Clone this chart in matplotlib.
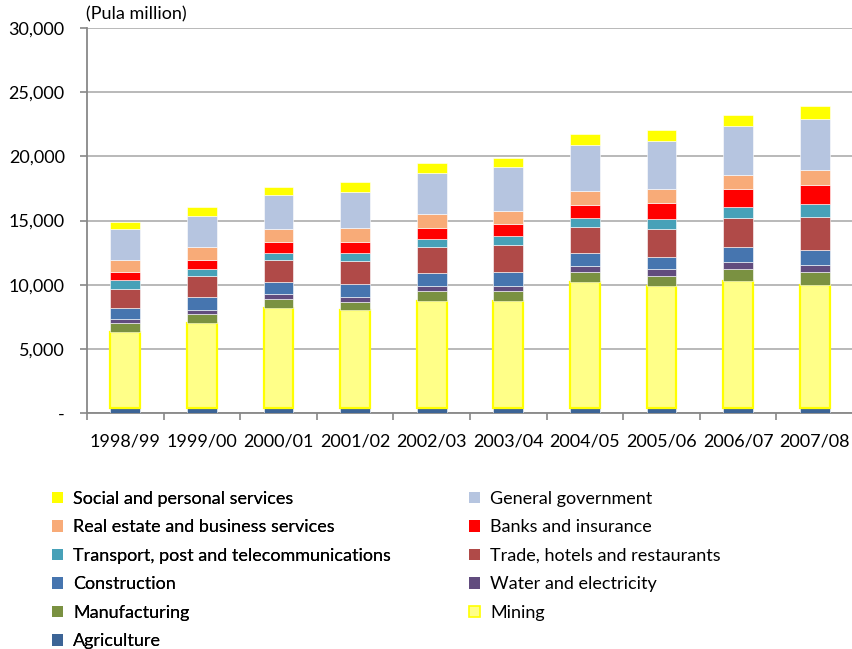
import matplotlib
matplotlib.use("Agg")
import matplotlib.pyplot as plt
from matplotlib.patches import Patch
from matplotlib.ticker import FixedLocator, FuncFormatter
import numpy as np

plt.rcParams['font.family'] = ['Lato', 'DejaVu Sans']

years = ["1998/99", "1999/00", "2000/01", "2001/02", "2002/03",
         "2003/04", "2004/05", "2005/06", "2006/07", "2007/08"]

# Value added by sector, Pula million (stacked bottom to top)
agriculture   = [380, 380, 390, 390, 390, 390, 400, 400, 400, 400]
mining        = [5950, 6630, 7770, 7610, 8310, 8360, 9800, 9490, 9900, 9600]
manufacturing = [680, 725, 700, 645, 780, 730, 780, 780, 890, 1010]
water_elec    = [310, 310, 390, 415, 435, 415, 490, 520, 545, 500]
construction  = [880, 990, 980, 965, 965, 1115, 1010, 980, 1190, 1190]
trade         = [1480, 1610, 1715, 1815, 2025, 2105, 2025, 2135, 2235, 2595]
transport     = [650, 545, 520, 625, 645, 675, 655, 780, 880, 965]
banks         = [670, 725, 855, 855, 855, 935, 1035, 1270, 1405, 1505]
real_estate   = [935, 990, 990, 1115, 1115, 990, 1115, 1065, 1065, 1190]
general_gov   = [2370, 2470, 2670, 2780, 3170, 3430, 3560, 3765, 3865, 3950]
social        = [545, 670, 650, 755, 780, 750, 855, 855, 835, 990]

series = [
    ("Agriculture", agriculture, "#3C6496"),
    ("Mining", mining, "#FFFF88"),
    ("Manufacturing", manufacturing, "#7A9141"),
    ("Water and electricity", water_elec, "#614C7E"),
    ("Construction", construction, "#4675AF"),
    ("Trade, hotels and restaurants", trade, "#B04A48"),
    ("Transport, post and telecommunications", transport, "#47A1B8"),
    ("Banks and insurance", banks, "#FF0000"),
    ("Real estate and business services", real_estate, "#F8AB78"),
    ("General government", general_gov, "#B6C5E0"),
    ("Social and personal services", social, "#FFFF00"),
]

FS = 13

fig = plt.figure(figsize=(8.53, 6.49), dpi=100)
ax = fig.add_axes([87 / 853, 236 / 649, 766 / 853, 385 / 649])

x = np.arange(len(years))
width = 0.39
bottom = np.zeros(len(years))
handles = {}
for name, vals, color in series:
    vals = np.array(vals, dtype=float)
    if name == "Mining":
        ax.bar(x, vals, width, bottom=bottom, color=color,
               edgecolor="#FFFF00", linewidth=1.6, zorder=3)
        handles[name] = Patch(facecolor=color, edgecolor="#FFFF00", linewidth=1.2)
    else:
        ax.bar(x, vals, width, bottom=bottom, color=color,
               edgecolor="#FFFFFF", linewidth=0.4, zorder=3)
        handles[name] = Patch(facecolor=color, edgecolor="none")
    bottom += vals

ax.set_xlim(-0.5, 9.5)
ax.set_ylim(0, 30000)

ax.yaxis.set_major_locator(FixedLocator([0, 5000, 10000, 15000, 20000, 25000, 30000]))
ax.yaxis.set_major_formatter(FuncFormatter(lambda v, p: "-" if v == 0 else f"{int(v):,}"))
ax.grid(axis="y", color="#A6A6A6", linewidth=1.1, zorder=0)
ax.set_axisbelow(True)

ax.set_xticks(x)
ax.set_xticklabels(years)
ax.set_xticks(np.arange(-0.5, 10.0, 1.0), minor=True)
ax.tick_params(axis="x", which="major", length=0, pad=15, labelsize=FS, colors="black")
ax.tick_params(axis="x", which="minor", length=5, width=1.2, color="#888888", direction="out")
ax.tick_params(axis="y", which="major", length=5, width=1.2, color="#888888",
               labelsize=FS, pad=11)

for side in ("top", "right"):
    ax.spines[side].set_visible(False)
for side in ("left", "bottom"):
    ax.spines[side].set_color("#888888")
    ax.spines[side].set_linewidth(1.3)

fig.text(86 / 853, 1 - 14 / 649, "(Pula million)", fontsize=FS, va="center", ha="left")

col1 = ["Social and personal services", "Real estate and business services",
        "Transport, post and telecommunications", "Construction",
        "Manufacturing", "Agriculture"]
col2 = ["General government", "Banks and insurance",
        "Trade, hotels and restaurants", "Water and electricity", "Mining"]

common = dict(frameon=False, fontsize=FS, handlelength=0.62, handleheight=0.62,
              handletextpad=0.55, labelspacing=0.69, borderaxespad=0, borderpad=0,
              loc="upper left")
leg1 = fig.legend([handles[n] for n in col1], col1,
                  bbox_to_anchor=(52 / 853, 1 - 491 / 649), **common)
fig.add_artist(leg1)
fig.legend([handles[n] for n in col2], col2,
           bbox_to_anchor=(469 / 853, 1 - 491 / 649), **common)

fig.savefig("out.png", dpi=100)
